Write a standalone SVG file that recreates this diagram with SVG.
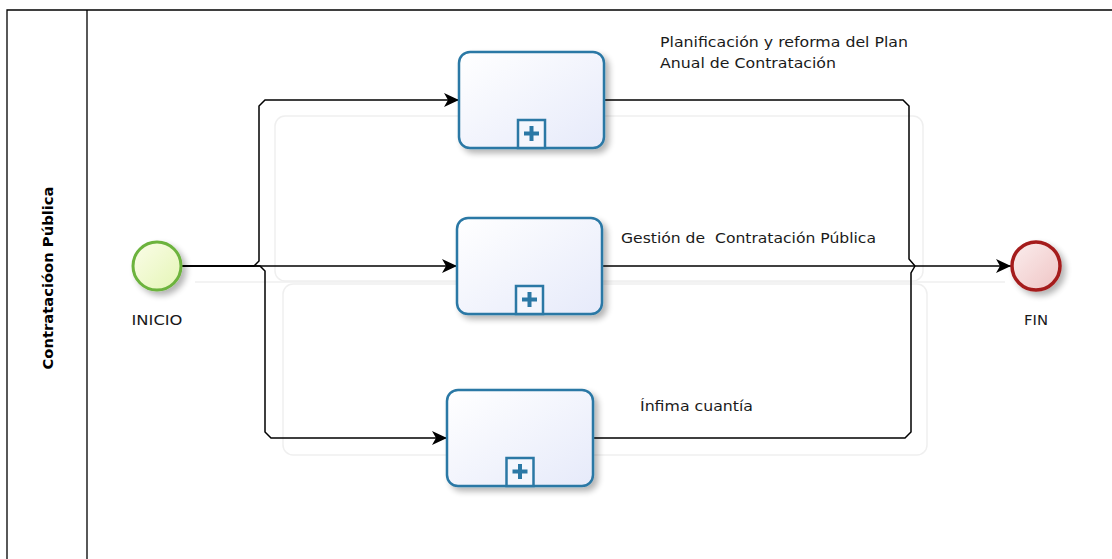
<svg xmlns="http://www.w3.org/2000/svg" width="1112" height="559" viewBox="0 0 1112 559">
  <defs>
    <linearGradient id="taskFill" x1="0" y1="0" x2="1" y2="1">
      <stop offset="0" stop-color="#ffffff"/>
      <stop offset="1" stop-color="#e6eafa"/>
    </linearGradient>
    <linearGradient id="startFill" x1="0" y1="0" x2="1" y2="1">
      <stop offset="0" stop-color="#fbfde9"/>
      <stop offset="1" stop-color="#e4f5b5"/>
    </linearGradient>
    <linearGradient id="endFill" x1="0" y1="0" x2="1" y2="1">
      <stop offset="0" stop-color="#fbeeee"/>
      <stop offset="1" stop-color="#efc4c4"/>
    </linearGradient>
    <filter id="shadow" x="-20%" y="-20%" width="150%" height="150%">
      <feGaussianBlur in="SourceAlpha" stdDeviation="3"/>
      <feOffset dx="4" dy="4" result="b"/>
      <feComponentTransfer><feFuncA type="linear" slope="0.3"/></feComponentTransfer>
      <feMerge><feMergeNode/><feMergeNode in="SourceGraphic"/></feMerge>
    </filter>
    <marker id="arrow" viewBox="0 0 15 14" refX="15" refY="7" markerWidth="15" markerHeight="14" markerUnits="userSpaceOnUse" orient="auto">
      <path d="M0,0 L15,7 L0,14 L4,7 Z" fill="#000"/>
    </marker>
  </defs>
  <style>
    .lane { fill: none; stroke: #000; stroke-width: 1.3; }
    .ghost { fill: none; stroke: #efefef; stroke-width: 1.5; }
    .task { fill: url(#taskFill); stroke: #2b78a5; stroke-width: 2.5; }
    .marker-box { fill: #f4f6fd; stroke: #2b78a5; stroke-width: 2.5; }
    .plus { fill: #2b78a5; }
    .flow { fill: none; stroke: #000; stroke-width: 1.5; }
    .label { font-family: "DejaVu Sans", "Open Sans", sans-serif; font-size: 14px; fill: #1a1a1a; }
    .title { font-family: "DejaVu Sans", "Open Sans", sans-serif; font-size: 14px; font-weight: bold; fill: #000; }
  </style>

  <rect width="1112" height="559" fill="#fff"/>

  <!-- pool / lane -->
  <g id="lane">
    <path class="lane" d="M1112,10 L7,10 L7,559 M87,10 L87,559"/>
    <text class="title" transform="translate(53,278) rotate(-90)" text-anchor="middle" textLength="183" lengthAdjust="spacingAndGlyphs">Contratacióon Pública</text>
  </g>

  <!-- faint background frames -->
  <g id="frames">
    <rect class="ghost" x="275" y="116" width="648" height="165" rx="10"/>
    <rect class="ghost" x="283" y="284" width="644" height="171" rx="10"/>
    <path class="ghost" d="M195,282 L1005,282"/>
  </g>

  <!-- sequence flows -->
  <g id="connectors">
    <path class="flow" marker-end="url(#arrow)" d="M182,266 L254,266 L259,261 L259,106 L265,100 L459,100"/>
    <path class="flow" marker-end="url(#arrow)" d="M182,266 L457,266"/>
    <path class="flow" marker-end="url(#arrow)" d="M182,266 L260,266 L265,271 L265,432 L271,438 L447,438"/>
    <path class="flow" d="M604,100 L903,100 L909,106 L909,259 L915,266"/>
    <path class="flow" d="M593,438 L905,438 L911,432 L911,273 L915,266"/>
    <path class="flow" marker-end="url(#arrow)" d="M602,266 L1011,266"/>
  </g>

  <g id="start">
    <circle cx="157" cy="266" r="24" fill="url(#startFill)" stroke="#6cb33e" stroke-width="3" filter="url(#shadow)"/>
    <text class="label" x="157" y="325" text-anchor="middle" textLength="51" lengthAdjust="spacingAndGlyphs">INICIO</text>
  </g>

  <g id="task-plan">
    <rect class="task" x="459" y="52" width="145" height="96" rx="11" filter="url(#shadow)"/>
    <rect class="marker-box" x="518" y="120" width="27" height="28"/>
    <path class="plus" d="M529.5,126 h4 v5.5 h5.5 v4 h-5.5 v5.5 h-4 v-5.5 h-5.5 v-4 h5.5 Z"/>
    <text class="label" x="660" y="47" textLength="248" lengthAdjust="spacingAndGlyphs">Planificación y reforma del Plan</text>
    <text class="label" x="660" y="68" textLength="176" lengthAdjust="spacingAndGlyphs">Anual de Contratación</text>
  </g>

  <g id="task-gestion">
    <rect class="task" x="457" y="218" width="145" height="96" rx="11" filter="url(#shadow)"/>
    <rect class="marker-box" x="516" y="286" width="27" height="28"/>
    <path class="plus" d="M527.5,292 h4 v5.5 h5.5 v4 h-5.5 v5.5 h-4 v-5.5 h-5.5 v-4 h5.5 Z"/>
    <text class="label" x="621" y="243" textLength="255" lengthAdjust="spacingAndGlyphs" xml:space="preserve">Gestión de  Contratación Pública</text>
  </g>

  <g id="task-infima">
    <rect class="task" x="447" y="390" width="146" height="96" rx="11" filter="url(#shadow)"/>
    <rect class="marker-box" x="506.5" y="458" width="27" height="28"/>
    <path class="plus" d="M518,464 h4 v5.5 h5.5 v4 h-5.5 v5.5 h-4 v-5.5 h-5.5 v-4 h5.5 Z"/>
    <text class="label" x="640" y="411" textLength="113" lengthAdjust="spacingAndGlyphs">Ínfima cuantía</text>
  </g>

  <g id="end">
    <circle cx="1036" cy="266" r="24" fill="url(#endFill)" stroke="#a51d1d" stroke-width="3.5" filter="url(#shadow)"/>
    <text class="label" x="1036" y="325" text-anchor="middle" textLength="24" lengthAdjust="spacingAndGlyphs">FIN</text>
  </g>
</svg>
